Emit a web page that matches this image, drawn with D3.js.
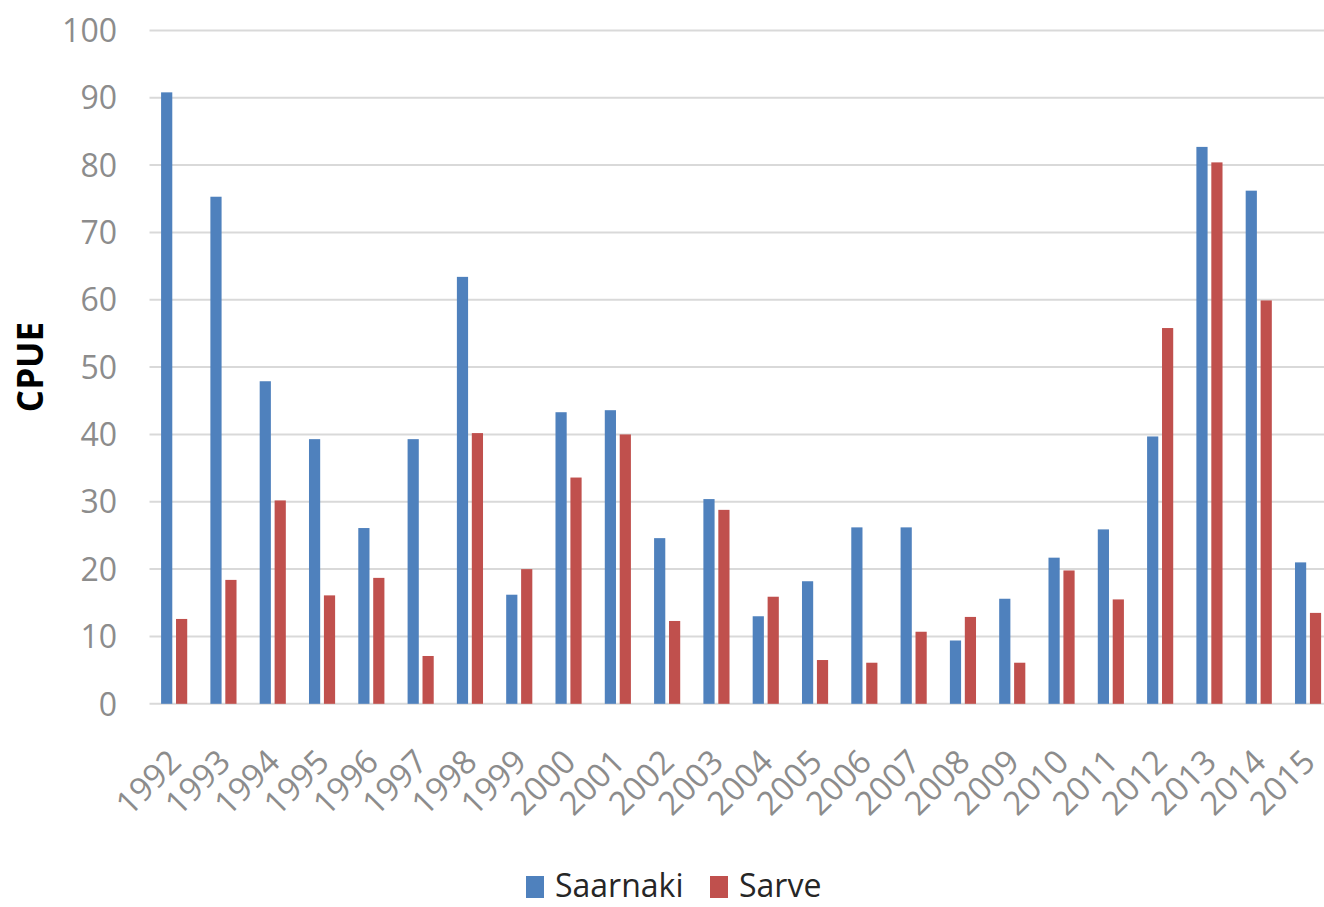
<!DOCTYPE html>
<html>
<head>
<meta charset="utf-8">
<script src="https://cdn.jsdelivr.net/npm/d3@7/dist/d3.min.js"></script>
<style>
  html, body { margin: 0; padding: 0; background: #ffffff; }
  svg { display: block; }
</style>
</head>
<body>
<svg id="chart" width="1324" height="907"></svg>
<script>
// Catch per unit effort by year, two sites
const years = ["1992","1993","1994","1995","1996","1997","1998","1999","2000","2001","2002","2003",
               "2004","2005","2006","2007","2008","2009","2010","2011","2012","2013","2014","2015"];
const seriesNames = ["Saarnaki", "Sarve"];
const saarnaki = [90.8, 75.3, 47.9, 39.3, 26.1, 39.3, 63.4, 16.2, 43.3, 43.6, 24.6, 30.4,
                  13.0, 18.2, 26.2, 26.2, 9.4, 15.6, 21.7, 25.9, 39.7, 82.7, 76.2, 21.0];
const sarve    = [12.6, 18.4, 30.2, 16.1, 18.7, 7.1, 40.2, 20.0, 33.6, 40.0, 12.3, 28.8,
                  15.9, 6.5, 6.1, 10.7, 12.9, 6.1, 19.8, 15.5, 55.8, 80.4, 59.9, 13.5];
const yTicks = [0, 10, 20, 30, 40, 50, 60, 70, 80, 90, 100];
const colors = ["#4f81bd", "#c0504d"];

const svg = d3.select("#chart");
const W = 1324;
const left = 149.5, step = 49.3;
const yTop = 30.4, yBottom = 703.8;
const font = "'Open Sans', 'DejaVu Sans', sans-serif";

const x0 = d3.scaleBand()
  .domain(years)
  .range([left, left + step * years.length])
  .paddingInner(0.47)
  .paddingOuter(0.235);

const x1 = d3.scaleBand()
  .domain(seriesNames)
  .range([0, x0.bandwidth()])
  .paddingInner(0.25);

const y = d3.scaleLinear().domain([0, 100]).range([yBottom, yTop]);

// Horizontal gridlines
svg.append("g")
  .selectAll("line")
  .data(yTicks)
  .join("line")
  .attr("x1", left)
  .attr("x2", W)
  .attr("y1", d => y(d))
  .attr("y2", d => y(d))
  .attr("stroke", "#d9d9d9")
  .attr("stroke-width", 2);

// Y axis labels
const yAxis = d3.axisLeft(y).tickValues(yTicks).tickSize(0).tickPadding(0);
const yg = svg.append("g")
  .attr("transform", `translate(117,0)`)
  .call(yAxis);
yg.select(".domain").remove();
yg.selectAll("text")
  .attr("font-family", font)
  .attr("font-size", 32)
  .attr("fill", "#8c8c8c")
  .attr("dy", "0.35em");

// Bars
const rows = years.map((yr, i) => ({ year: yr, values: [saarnaki[i], sarve[i]] }));
const groups = svg.append("g")
  .selectAll("g")
  .data(rows)
  .join("g")
  .attr("transform", d => `translate(${x0(d.year)},0)`);

groups.selectAll("rect")
  .data(d => d.values.map((v, k) => ({ name: seriesNames[k], value: v, k })))
  .join("rect")
  .attr("x", d => x1(d.name))
  .attr("width", x1.bandwidth())
  .attr("y", d => y(d.value))
  .attr("height", d => y(0) - y(d.value))
  .attr("fill", d => colors[d.k]);

// X axis labels, rotated
const xAxis = d3.axisBottom(x0).tickSize(0).tickPadding(0);
const xg = svg.append("g")
  .attr("transform", `translate(0,${yBottom})`)
  .call(xAxis);
xg.select(".domain").remove();
xg.selectAll("text")
  .attr("font-family", font)
  .attr("font-size", 33)
  .attr("fill", "#8c8c8c")
  .attr("text-anchor", "end")
  .attr("dy", null)
  .attr("y", 0)
  .attr("transform", "translate(9,60) rotate(-45)");

// Y axis title
svg.append("text")
  .attr("transform", `translate(43,367) rotate(-90)`)
  .attr("text-anchor", "middle")
  .attr("font-family", font)
  .attr("font-weight", "bold")
  .attr("font-size", 35)
  .attr("fill", "#000000")
  .text("CPUE");

// Legend
const legendItems = [
  { name: seriesNames[0], color: colors[0], sx: 526, tx: 555 },
  { name: seriesNames[1], color: colors[1], sx: 710, tx: 739 }
];
const lg = svg.append("g");
lg.selectAll("rect")
  .data(legendItems)
  .join("rect")
  .attr("x", d => d.sx)
  .attr("y", 876)
  .attr("width", 18)
  .attr("height", 22)
  .attr("fill", d => d.color);
lg.selectAll("text")
  .data(legendItems)
  .join("text")
  .attr("x", d => d.tx)
  .attr("y", 897)
  .attr("font-family", font)
  .attr("font-size", 32)
  .attr("fill", "#262626")
  .text(d => d.name);
</script>
</body>
</html>
